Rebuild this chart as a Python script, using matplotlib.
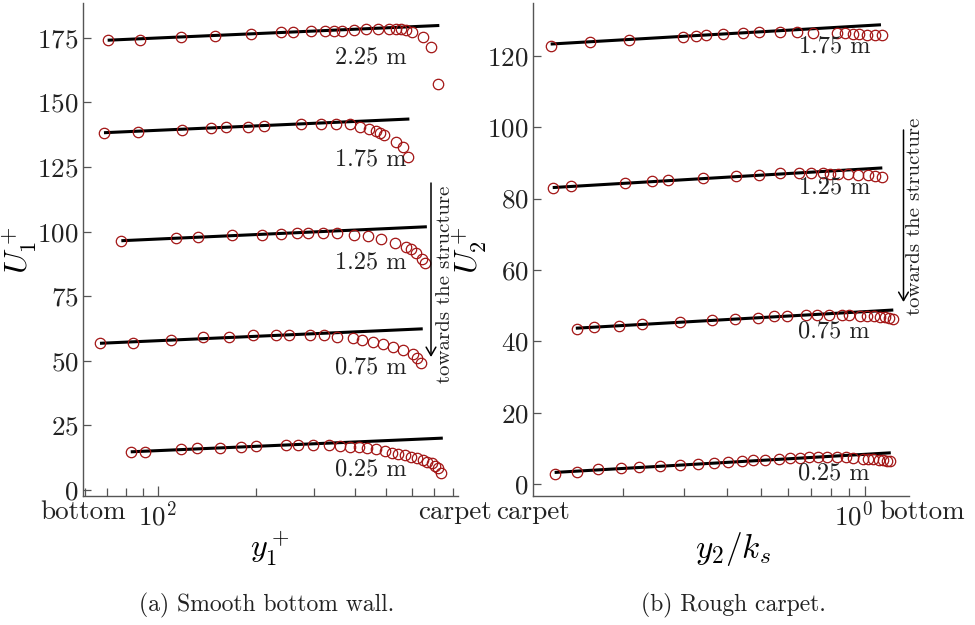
import matplotlib
matplotlib.use("Agg")
import matplotlib.pyplot as plt
import matplotlib.transforms as mtransforms
import numpy as np

plt.rcParams['font.family'] = 'serif'
plt.rcParams['font.serif'] = ['cmr10']
plt.rcParams['mathtext.fontset'] = 'cm'
plt.rcParams['axes.formatter.use_mathtext'] = True
plt.rcParams['axes.unicode_minus'] = False

# ---------------- data: (a) smooth bottom wall ----------------
stations = ["0.25 m", "0.75 m", "1.25 m", "1.75 m", "2.25 m"]

yp_025 = [82.7, 91.6, 117.6, 131.9, 155.0, 180.2, 199.8, 246.3, 267.9, 299.2, 334.7, 361, 387.3, 413.6,
          437.5, 465.1, 495.5, 519.5, 544.3, 570.6, 593.9, 619.4, 646.2, 667.5, 688.6, 704.7, 721.1, 734.5]
U1_025 = [14.8, 14.8, 15.9, 16.1, 16.4, 16.8, 17.2, 17.4, 17.4, 17.4, 17.4, 17.2, 16.8, 16.5,
          16.1, 15.8, 15.1, 14.4, 13.9, 13.4, 12.9, 12.3, 11.6, 11.0, 10.3, 9.4, 8.4, 6.5]
yp_075 = [66.6, 83.9, 109.6, 137.6, 164.8, 195.2, 230.1, 252.5, 292.2, 322.6, 354.3, 394.6, 420.6, 454.6,
          489.7, 525.5, 561.2, 602.1, 619.4, 637]
U1_075 = [56.8, 57.0, 58.1, 59.1, 59.3, 59.9, 60.1, 60.1, 60.1, 59.9, 59.1, 58.8, 58.1, 57.3,
          56.4, 55.5, 54.2, 52.5, 51.0, 49.3]
yp_125 = [77.4, 113.8, 132.5, 168.3, 208.2, 238.2, 266, 288.9, 319.8, 353.4, 398.3, 440.3, 481.6, 531.8,
          574.5, 593.9, 615.2, 641.6, 656.2]
U1_125 = [96.5, 97.4, 98.1, 98.6, 98.8, 99.1, 99.4, 99.4, 99.4, 99.4, 98.8, 98.3, 97.1, 95.8,
          94.0, 93.2, 91.9, 89.3, 88.0]
yp_175 = [68.5, 86.9, 118.4, 145.1, 161.7, 189.3, 211, 274.8, 315, 350.6, 386, 414.6, 443.6, 465.6,
          478.6, 492.3, 537, 564, 584]
U1_175 = [138.3, 138.7, 139.4, 140.1, 140.6, 140.6, 141.0, 141.6, 141.7, 141.7, 141.7, 140.6, 139.9, 139.1,
          138.3, 137.6, 134.8, 132.8, 128.9]
yp_225 = [70.3, 88.4, 118, 150, 193, 238, 260, 295, 324, 347, 366, 397, 432, 471, 510, 537, 556, 576,
          601, 648, 685, 721]
U1_225 = [174.1, 174.3, 175.4, 175.8, 176.5, 177.2, 177.2, 177.7, 177.6, 177.8, 177.6, 178.2, 178.4, 178.5,
          178.6, 178.5, 178.4, 178.2, 177.4, 175.4, 171.4, 157.1]

# log-law fit lines (end points): y+ range and U+ values
fit1_x = [[82.7, 744], [66.6, 646], [77.4, 665], [68.5, 588], [70.3, 726]]
fit1_U = [[14.8, 20.1], [56.8, 62.4], [96.5, 101.9], [138.3, 143.6], [174.1, 179.8]]

# ---------------- data: (b) rough carpet ----------------
stations2 = ["0.25 m", "0.75 m", "1.25 m", "1.75 m"]
yk_025 = [0.1268, 0.1468, 0.1692, 0.1975, 0.2222, 0.2557, 0.2919, 0.3298, 0.3668, 0.4026, 0.4401, 0.4736,
          0.514, 0.5641, 0.6070, 0.6486, 0.6902, 0.7300, 0.7749, 0.8283, 0.8795, 0.9214, 0.9888, 1.022,
          1.057, 1.098, 1.129, 1.155, 1.181]
U2_025 = [3.0, 3.5, 4.3, 4.6, 4.9, 5.2, 5.4, 5.7, 6.0, 6.3, 6.5, 6.7, 6.9, 7.2, 7.3, 7.4, 7.6, 7.7, 7.7,
          7.7, 7.7, 7.4, 7.2, 7.1, 7.0, 6.9, 6.7, 6.5, 6.4]
yk_075 = [0.1474, 0.1647, 0.1950, 0.2272, 0.2914, 0.3620, 0.4209, 0.4896, 0.5458, 0.5962, 0.6753, 0.7281,
          0.7853, 0.8563, 0.9008, 0.9672, 1.015, 1.062, 1.105, 1.142, 1.175, 1.202]
U2_075 = [43.5, 44.0, 44.4, 44.8, 45.4, 45.9, 46.4, 46.6, 47.0, 47.2, 47.3, 47.4, 47.5, 47.3, 47.3, 47.2,
          47.1, 47.0, 46.8, 46.8, 46.6, 46.4]
yk_125 = [0.1252, 0.1411, 0.2024, 0.2424, 0.2695, 0.3409, 0.4238, 0.4948, 0.5679, 0.6457, 0.6982, 0.7546,
          0.7921, 0.8373, 0.8948, 0.9563, 1.022, 1.069, 1.118]
U2_125 = [82.9, 83.4, 84.5, 84.8, 85.2, 85.7, 86.2, 86.7, 87.2, 87.2, 87.2, 87.2, 87.0, 87.0, 86.9, 86.7,
          86.5, 86.4, 86.0]
yk_175 = [0.1235, 0.160, 0.208, 0.298, 0.325, 0.348, 0.388, 0.445, 0.495, 0.568, 0.635, 0.709, 0.828,
          0.876, 0.925, 0.963, 1.011, 1.069, 1.117]
U2_175 = [122.7, 123.8, 124.5, 125.4, 125.6, 125.8, 126.0, 126.5, 126.7, 126.7, 126.6, 126.4, 126.3,
          126.3, 126.2, 126.1, 125.9, 125.8, 125.7]

fit2_x = [[0.1268, 1.187], [0.146, 1.207], [0.1252, 1.122], [0.1235, 1.112]]
fit2_U = [[3.3, 8.8], [43.7, 48.8], [83.1, 88.6], [123.3, 128.7]]

# label anchor values (data units)
lab1_x = 578
lab1_y = [8.1, 47.6, 87.9, 128.1, 167.6]
lab2_x = 1.034
lab2_y = [3.0, 42.7, 83.0, 122.6]

# ---------------- figure ----------------
W, H = 975, 625
fig = plt.figure(figsize=(W / 100, H / 100), dpi=100)

def fx(px):
    return px / W

def fy(py):
    return 1 - py / H

ax1 = fig.add_axes([fx(83), fy(496), fx(458) - fx(83), fy(3) - fy(496)])
ax2 = fig.add_axes([fx(533), fy(496), fx(909) - fx(533), fy(3) - fy(496)])

MC = '#a31515'
spine_c = '#555555'
txt_c = '#222222'
fs_tick = 19.5
fs_lab = 17.5

def style(ax):
    for s in ['top', 'right']:
        ax.spines[s].set_visible(False)
    for s in ['left', 'bottom']:
        ax.spines[s].set_color(spine_c)
        ax.spines[s].set_linewidth(1.0)
    ax.tick_params(axis='both', which='both', direction='in', colors=spine_c,
                   labelcolor=txt_c, labelsize=fs_tick, width=0.9)
    ax.tick_params(axis='y', which='major', length=5.5, pad=3)
    ax.tick_params(axis='x', which='major', length=7, pad=3)
    ax.tick_params(axis='x', which='minor', length=6)

data1 = [(yp_025, U1_025), (yp_075, U1_075), (yp_125, U1_125), (yp_175, U1_175), (yp_225, U1_225)]
for (xs, us), fxv, fuv, st, ly in zip(data1, fit1_x, fit1_U, stations, lab1_y):
    ax1.plot(fxv, fuv, color='black', lw=2.2, zorder=2, solid_capstyle='butt')
    ax1.plot(xs, us, 'o', mfc='none', mec=MC, mew=0.9, ms=7.5, zorder=3)
    ax1.text(lab1_x, ly, st, ha='right', va='center', fontsize=fs_lab, color=txt_c)

data2 = [(yk_025, U2_025), (yk_075, U2_075), (yk_125, U2_125), (yk_175, U2_175)]
for (xs, us), fxv, fuv, st, ly in zip(data2, fit2_x, fit2_U, stations2, lab2_y):
    ax2.plot(fxv, fuv, color='black', lw=2.2, zorder=2, solid_capstyle='butt')
    ax2.plot(xs, us, 'o', mfc='none', mec=MC, mew=0.9, ms=7.5, zorder=3)
    ax2.text(lab2_x, ly, st, ha='right', va='center', fontsize=fs_lab, color=txt_c)

for ax in (ax1, ax2):
    ax.set_xscale('log')
    style(ax)

x1lim = (59.1, 828)
ax1.set_xlim(*x1lim)
ax1.set_ylim(-2.3, 188.5)
ax1.set_yticks([0, 25, 50, 75, 100, 125, 150, 175])
ax1.set_xticks([x1lim[0], 100, x1lim[1]])
ax1.set_xticklabels(['bottom', '$10^2$', 'carpet'])

x2lim = (0.1098, 1.340)
ax2.set_xlim(*x2lim)
ax2.set_ylim(-3.3, 134.8)
ax2.set_yticks([0, 20, 40, 60, 80, 100, 120])
ax2.set_xticks([x2lim[0], 1, x2lim[1]])
ax2.set_xticklabels(['carpet', '$10^0$', 'bottom'])

for ax in (ax1, ax2):
    ticks = ax.xaxis.get_major_ticks()
    for i in (0, 2):
        ticks[i].tick1line.set_visible(False)

# nudge end labels like the reference
def nudge(label, dx_px):
    label.set_transform(label.get_transform() +
                        mtransforms.ScaledTranslation(dx_px / 100, 0, fig.dpi_scale_trans))

t1 = ax1.xaxis.get_major_ticks()
t2 = ax2.xaxis.get_major_ticks()
nudge(t1[2].label1, -3)
nudge(t2[0].label1, 0)
nudge(t2[1].label1, -11)
nudge(t2[2].label1, 13)

# axis labels
fig.text(fx(270), fy(549), '$y_1^+$', ha='center', va='center', fontsize=23)
fig.text(fx(733), fy(549), '$y_2/k_s$', ha='center', va='center', fontsize=24)
fig.text(fx(20), fy(250), '$U_1^+$', ha='center', va='center', fontsize=23, rotation=90)
fig.text(fx(470), fy(250), '$U_2^+$', ha='center', va='center', fontsize=23, rotation=90)

# captions
fig.text(fx(267), fy(605), '(a) Smooth bottom wall.', ha='center', va='center', fontsize=17, color=txt_c)
fig.text(fx(733), fy(605), '(b) Rough carpet.', ha='center', va='center', fontsize=17, color=txt_c)

# arrows
for xa, y0, y1, xt, yt in [(431, 183, 357, 445, 284), (903.5, 130, 302, 915, 216)]:
    fig.add_artist(matplotlib.patches.FancyArrowPatch(
        (fx(xa), fy(y0)), (fx(xa), fy(y1)), transform=fig.transFigure,
        arrowstyle='->,head_length=6,head_width=3.5', color='black', lw=1.1,
        shrinkA=0, shrinkB=0))
    fig.text(fx(xt), fy(yt), 'towards the structure', rotation=90, ha='center', va='center',
             fontsize=15, color=txt_c)

fig.savefig('out.png', dpi=100)
